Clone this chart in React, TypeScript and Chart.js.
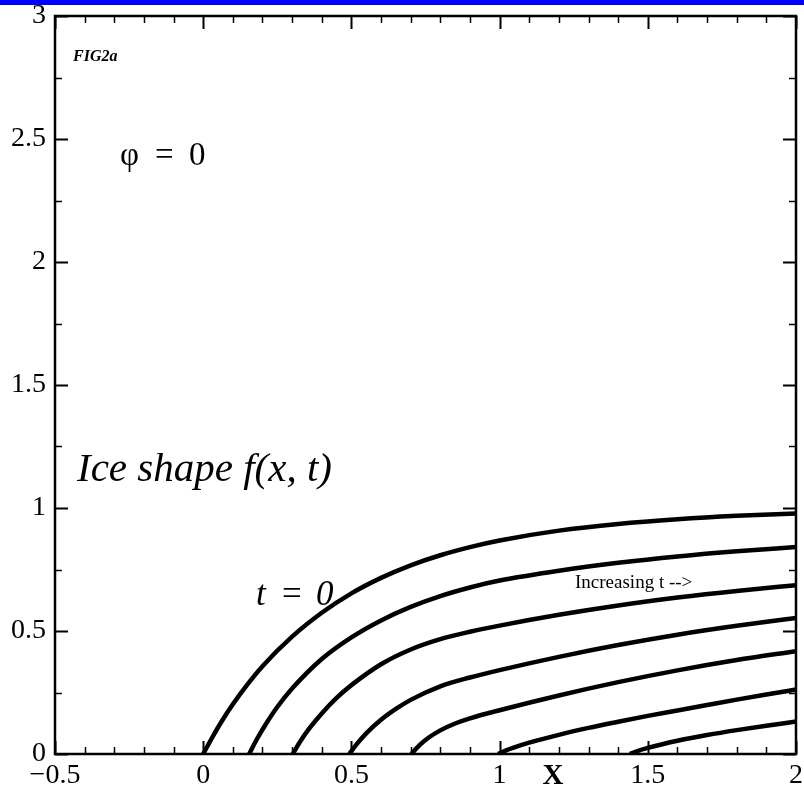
import React, { useEffect, useRef } from "react";
import { Chart, registerables } from "chart.js";

Chart.register(...registerables);

const SERIF = '"Liberation Serif", "Times New Roman", Times, serif';

// Axis ticks and their printed labels
const xTickValues = [-0.5, 0, 0.5, 1, 1.5, 2];
const xTickLabels = ["\u22120.5", "0", "0.5", "1", "1.5", "2"];
const yTickValues = [0, 0.5, 1, 1.5, 2, 2.5, 3];
const yTickLabels = ["0", "0.5", "1", "1.5", "2", "2.5", "3"];

// Ice profiles f(x, t); the first one is t = 0, later times follow
const xT0 = [0, 0.03, 0.06, 0.1, 0.15, 0.2, 0.3, 0.4, 0.5, 0.6, 0.7, 0.8, 0.9, 1.0, 1.2, 1.4, 1.6, 1.8, 2.0];
const fT0 = [0, 0.066, 0.128, 0.202, 0.284, 0.357, 0.477, 0.574, 0.653, 0.716, 0.767, 0.808, 0.841, 0.868, 0.908, 0.935, 0.954, 0.968, 0.978];

const xT1 = [0.155, 0.18, 0.21, 0.25, 0.3, 0.4, 0.5, 0.6, 0.7, 0.8, 0.9, 1.0, 1.2, 1.4, 1.6, 1.8, 2.0];
const fT1 = [0, 0.058, 0.119, 0.191, 0.266, 0.386, 0.474, 0.543, 0.598, 0.642, 0.677, 0.705, 0.745, 0.777, 0.803, 0.824, 0.841];

const xT2 = [0.302, 0.33, 0.36, 0.4, 0.45, 0.5, 0.6, 0.7, 0.8, 0.9, 1.0, 1.2, 1.4, 1.6, 1.8, 2.0];
const fT2 = [0, 0.056, 0.107, 0.165, 0.228, 0.28, 0.365, 0.425, 0.467, 0.497, 0.522, 0.566, 0.604, 0.636, 0.663, 0.686];

const xT3 = [0.493, 0.52, 0.55, 0.6, 0.65, 0.7, 0.8, 0.9, 1.0, 1.2, 1.4, 1.6, 1.8, 2.0];
const fT3 = [0, 0.043, 0.084, 0.139, 0.183, 0.22, 0.275, 0.311, 0.341, 0.395, 0.443, 0.485, 0.521, 0.553];

const xT4 = [0.702, 0.73, 0.76, 0.8, 0.85, 0.9, 1.0, 1.2, 1.4, 1.6, 1.8, 2.0];
const fT4 = [0, 0.036, 0.066, 0.096, 0.124, 0.145, 0.178, 0.238, 0.292, 0.34, 0.382, 0.418];

const xT5 = [0.995, 1.02, 1.05, 1.1, 1.2, 1.3, 1.4, 1.5, 1.6, 1.7, 1.8, 1.9, 2.0];
const fT5 = [0, 0.014, 0.027, 0.046, 0.078, 0.106, 0.131, 0.155, 0.177, 0.199, 0.221, 0.242, 0.262];

const xT6 = [1.44, 1.46, 1.5, 1.6, 1.7, 1.8, 1.9, 2.0];
const fT6 = [0, 0.01, 0.025, 0.054, 0.077, 0.097, 0.115, 0.132];

const profiles: [number[], number[]][] = [
  [xT0, fT0],
  [xT1, fT1],
  [xT2, fT2],
  [xT3, fT3],
  [xT4, fT4],
  [xT5, fT5],
  [xT6, fT6],
];

// Inward tick marks on all four sides plus the box frame
const frameTicks = {
  id: "frameTicks",
  afterDatasetsDraw(chart: any) {
    const { ctx, chartArea: a, scales } = chart;
    const xs = scales.x;
    const ys = scales.y;
    ctx.save();
    ctx.strokeStyle = "#000";
    ctx.lineCap = "butt";
    for (let i = 0; i <= 25; i++) {
      const v = -0.5 + i * 0.1;
      const major = i % 5 === 0;
      const px = Math.round(xs.getPixelForValue(v)) + 0.5;
      const len = major ? 13 : 7;
      ctx.lineWidth = major ? 2 : 1.5;
      ctx.beginPath();
      ctx.moveTo(px, a.bottom);
      ctx.lineTo(px, a.bottom - len);
      ctx.moveTo(px, a.top);
      ctx.lineTo(px, a.top + len);
      ctx.stroke();
    }
    for (let i = 0; i <= 12; i++) {
      const v = i * 0.25;
      const major = i % 2 === 0;
      const py = Math.round(ys.getPixelForValue(v)) + 0.5;
      const len = major ? 13 : 7;
      ctx.lineWidth = major ? 2 : 1.5;
      ctx.beginPath();
      ctx.moveTo(a.left, py);
      ctx.lineTo(a.left + len, py);
      ctx.moveTo(a.right, py);
      ctx.lineTo(a.right - len, py);
      ctx.stroke();
    }
    ctx.lineWidth = 2.5;
    ctx.strokeRect(a.left, a.top, a.right - a.left, a.bottom - a.top);
    ctx.restore();
  },
};

// Figure captions written inside the plot
const captions = {
  id: "captions",
  afterDraw(chart: any) {
    const { ctx, scales } = chart;
    ctx.save();
    ctx.fillStyle = "#000";
    ctx.textBaseline = "alphabetic";
    ctx.textAlign = "left";

    ctx.font = `italic bold 16px ${SERIF}`;
    ctx.fillText("FIG2a", 73, 61);

    ctx.font = `33px ${SERIF}`;
    ctx.fillText("\u03c6", 120, 165);
    ctx.fillText("=", 155, 165);
    ctx.fillText("0", 189, 165);

    ctx.font = `italic 41px ${SERIF}`;
    ctx.fillText("Ice shape f(x, t)", 77, 481);

    ctx.font = `italic 35px ${SERIF}`;
    ctx.fillText("t", 256, 605);
    ctx.font = `35px ${SERIF}`;
    ctx.fillText("=", 282, 605);
    ctx.font = `italic 35px ${SERIF}`;
    ctx.fillText("0", 316, 605);

    ctx.font = `19px ${SERIF}`;
    ctx.fillText("Increasing t -->", 575, 588);

    // axis title sits just right of the "1" tick
    ctx.font = `bold 29px ${SERIF}`;
    ctx.textAlign = "center";
    ctx.textBaseline = "middle";
    ctx.fillText("X", scales.x.getPixelForValue(1.18), 777);
    ctx.restore();
  },
};

export default function App() {
  const canvasRef = useRef<HTMLCanvasElement | null>(null);

  useEffect(() => {
    const canvas = canvasRef.current;
    if (!canvas) return;

    const datasets = profiles.map(([xs, fs], k) => ({
      label: `profile ${k}`,
      data: xs.map((x, i) => ({ x, y: fs[i] })),
      borderColor: "#000",
      borderWidth: 4.5,
      pointRadius: 0,
      fill: false,
      cubicInterpolationMode: "monotone" as const,
    }));

    const chart = new Chart(canvas, {
      type: "line",
      data: { datasets },
      plugins: [frameTicks, captions],
      options: {
        responsive: false,
        animation: false,
        events: [],
        layout: { padding: { top: 16, right: 8, left: 0, bottom: 0 } },
        plugins: {
          legend: { display: false },
          tooltip: { enabled: false },
        },
        scales: {
          x: {
            type: "linear",
            min: -0.5,
            max: 2,
            afterFit: (scale: any) => {
              scale.height = 39;
              scale.paddingLeft = 0;
              scale.paddingRight = 0;
            },
            afterBuildTicks: (scale: any) => {
              scale.ticks = xTickValues.map((value) => ({ value }));
            },
            grid: { display: false, drawTicks: false },
            border: { display: false },
            ticks: {
              padding: 8,
              maxRotation: 0,
              autoSkip: false,
              color: "#000",
              font: { family: SERIF, size: 28, lineHeight: 1 },
              callback: (_v: any, i: number) => xTickLabels[i],
            },
          },
          y: {
            type: "linear",
            min: 0,
            max: 3,
            afterFit: (scale: any) => {
              scale.width = 55;
              scale.paddingTop = 0;
              scale.paddingBottom = 0;
            },
            afterBuildTicks: (scale: any) => {
              scale.ticks = yTickValues.map((value) => ({ value }));
            },
            grid: { display: false, drawTicks: false },
            border: { display: false },
            ticks: {
              padding: 9,
              autoSkip: false,
              color: "#000",
              font: { family: SERIF, size: 28, lineHeight: 1 },
              callback: (_v: any, i: number) => yTickLabels[i],
            },
          },
        },
      },
    });

    return () => chart.destroy();
  }, []);

  return (
    <div style={{ position: "fixed", left: 0, top: 0, width: 804, height: 793, background: "#fff" }}>
      <canvas ref={canvasRef} width={804} height={793} style={{ display: "block" }} />
      <div style={{ position: "absolute", left: 0, top: 0, width: 804, height: 5, background: "#0000ff" }} />
    </div>
  );
}
